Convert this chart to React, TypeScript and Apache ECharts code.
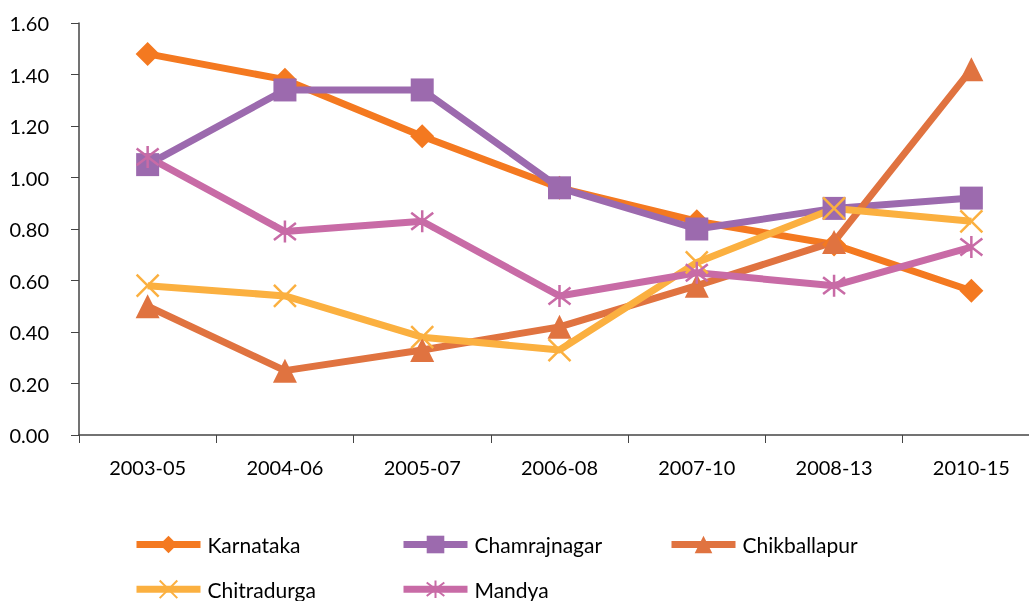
import React, { useEffect, useRef } from "react";
import * as echarts from "echarts";

const categories = ["2003-05", "2004-06", "2005-07", "2006-08", "2007-10", "2008-13", "2010-15"];
const seriesNames = ["Karnataka", "Chamrajnagar", "Chikballapur", "Chitradurga", "Mandya"];
const karnataka = [1.48, 1.38, 1.16, 0.96, 0.83, 0.74, 0.56];
const chamrajnagar = [1.05, 1.34, 1.34, 0.96, 0.8, 0.88, 0.92];
const chikballapur = [0.5, 0.25, 0.33, 0.42, 0.58, 0.75, 1.42];
const chitradurga = [0.58, 0.54, 0.38, 0.33, 0.67, 0.88, 0.83];
const mandya = [1.08, 0.79, 0.83, 0.54, 0.63, 0.58, 0.73];
const yTicks = { min: 0, max: 1.6, interval: 0.2 };

const colors = ["#F47920", "#9C6AAE", "#E07340", "#FBB040", "#C86BA6"];
const values = [karnataka, chamrajnagar, chikballapur, chitradurga, mandya];
const FONT = "Lato, 'Open Sans', sans-serif";

const X_PATH = "path://M0,0L10,10M10,0L0,10";
const AST_PATH = "path://M0,0L10,10M10,0L0,10M5,-1.5L5,11.5";

export default function App() {
  const ref = useRef<HTMLDivElement>(null);
  useEffect(() => {
    if (!ref.current) return;
    const chart = echarts.init(ref.current, undefined, { renderer: "svg" });
    const symbols: any[] = ["diamond", "rect", "triangle", X_PATH, AST_PATH];
    const sizes = [24, 23, 24, 22, 22];
    const series = seriesNames.map((name, i) => {
      const stroked = i >= 3;
      return {
        name,
        type: "line",
        data: values[i],
        symbol: symbols[i],
        symbolSize: sizes[i],
        showAllSymbol: true,
        color: colors[i],
        lineStyle: { color: colors[i], width: 7 },
        itemStyle: stroked
          ? { color: "none", borderColor: colors[i], borderWidth: 2.5 }
          : { color: colors[i], borderWidth: 0 },
        emphasis: { disabled: true },
      };
    });
    const legendPos = [
      [133, 534],
      [400, 534],
      [668, 534],
      [133, 578],
      [400, 578],
    ];
    const legend = seriesNames.map((name, i) => ({
      data: [name],
      left: legendPos[i][0],
      top: legendPos[i][1],
      itemWidth: 64,
      itemHeight: 22,
      itemGap: 0,
      padding: 0,
      lineStyle: { width: 7 },
      textStyle: { fontFamily: FONT, fontSize: 21, color: "#000", padding: [0, 0, 0, 2] },
      selectedMode: false,
    }));
    chart.setOption({
      animation: false,
      legend,
      grid: { left: 79, top: 23, width: 961, height: 412, containLabel: false },
      xAxis: {
        type: "category",
        data: categories,
        boundaryGap: true,
        axisLine: { lineStyle: { color: "#444", width: 1.5 } },
        axisTick: { show: true, length: 8, lineStyle: { color: "#444" }, alignWithLabel: false },
        axisLabel: { fontFamily: FONT, fontSize: 20, color: "#000", margin: 22 },
      },
      yAxis: {
        type: "value",
        min: yTicks.min,
        max: yTicks.max,
        interval: yTicks.interval,
        axisLine: { show: true, lineStyle: { color: "#444", width: 1.5 } },
        axisTick: { show: true, length: 8, lineStyle: { color: "#444" } },
        splitLine: { show: false },
        axisLabel: {
          fontFamily: FONT,
          fontSize: 20,
          color: "#000",
          margin: 30,
          formatter: (v: number) => v.toFixed(2),
        },
      },
      series,
    });
    return () => chart.dispose();
  }, []);
  return (
    <div style={{ position: "fixed", left: 0, top: 0, width: 1029, height: 601, overflow: "hidden" }}>
      <div ref={ref} style={{ width: 1045, height: 601 }} />
    </div>
  );
}
